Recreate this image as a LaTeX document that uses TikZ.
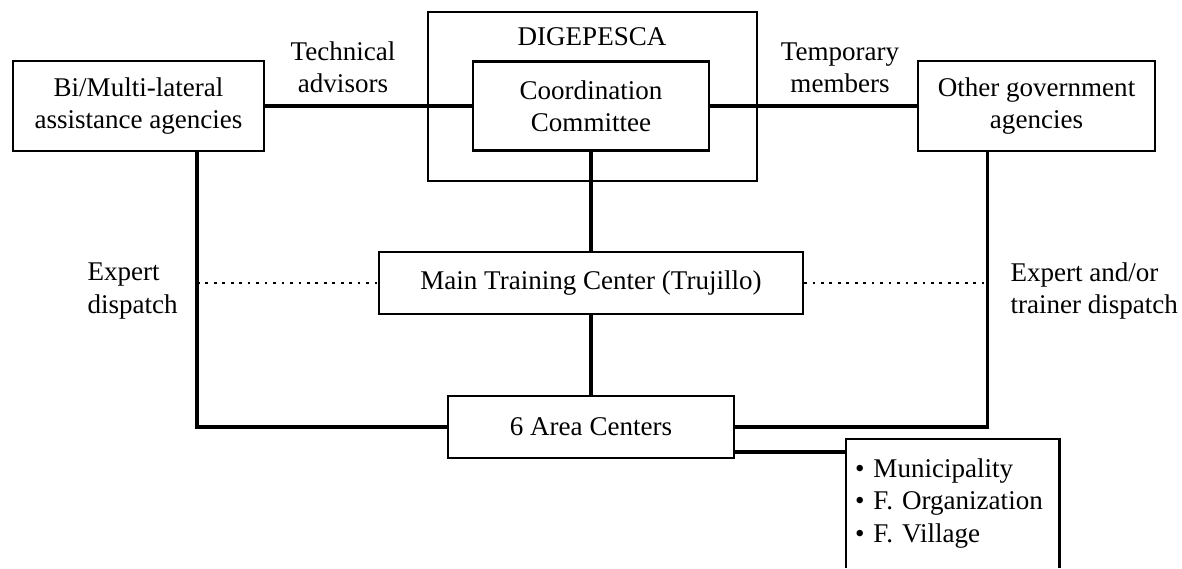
\documentclass[tikz,border=0pt]{standalone}
\usepackage{fontspec}
\setmainfont{Liberation Serif}

\begin{document}
\begin{tikzpicture}[x=0.13mm, y=-0.13mm,
    every node/.style={font=\fontsize{10}{12}\selectfont},
    box/.style={draw, line width=0.3mm, inner sep=0pt, align=center},
    lbl/.style={inner sep=0pt, align=center},
    conn/.style={line width=0.55mm},
    side/.style={line width=0.4mm},
    dotline/.style={line width=0.3mm, dash pattern=on 0.35mm off 0.75mm}]
    % --- 1. page frame ---
    \useasboundingbox (0,0) rectangle (1182,568);
    \coordinate (pgbot) at (0,568);   % lower edge of the page

    % --- 2. boxes ---
    \node[box, minimum width=42.8mm, minimum height=22mm] (dige) at (592.5,96.5) {};
    \node[lbl] (digelbl) at (592,37) {DIGEPESCA};
    \node[box, minimum width=30.6mm, minimum height=11.6mm] (coord) at (591,106) {Coordination\\Committee};
    \node[box, minimum width=32.6mm, minimum height=11.7mm] (bi) at (138.5,106) {Bi/Multi-lateral\\assistance agencies};
    \node[box, minimum width=30.8mm, minimum height=11.7mm] (other) at (1036.5,106) {Other government\\agencies};
    \node[box, minimum width=55.1mm, minimum height=8.1mm] (main) at (591,283) {Main Training Center (Trujillo)};
    \node[box, minimum width=37.1mm, minimum height=8.1mm] (area) at (591,427) {6 Area Centers};

    % list under the area centers (open at the bottom)
    \node[anchor=north west, inner xsep=1.1mm, inner ysep=2.5mm, text width=25.4mm, align=left]
        (vill) at (846,439) {\textbullet\ Municipality\\\textbullet\ F.\ Organization\\\textbullet\ F.\ Village};
    \draw[line width=0.35mm] (vill.north west |- pgbot) -- (vill.north west) -- (vill.north east) -- (vill.north east |- pgbot);

    % --- 3. labels ---
    \node[lbl] (tech) at (343,67) {Technical\\advisors};
    \node[lbl] (temp) at (840,68) {Temporary\\members};
    \node[lbl, anchor=west, align=left] (expl) at (87,291) {Expert\\dispatch};
    \node[lbl, anchor=west, align=left] (expr) at (1010,291) {Expert and/or\\trainer dispatch};

    % --- 4. connectors ---
    \coordinate (lvert) at ([xshift=7.6mm]bi.south);      % left drop line
    \coordinate (rvert) at ([xshift=-6.4mm]other.south);  % right drop line

    \draw[conn] (bi) -- (coord);
    \draw[conn] (coord) -- (other);
    \draw[conn] (coord.south) -- (main.north);
    \draw[conn] (main.south) -- (area.north);

    \draw[side] (lvert) |- (area.west);
    \draw[side] (rvert) |- (area.east);

    \draw[dotline] (lvert |- main.west) -- (main.west);
    \draw[dotline] (main.east) -- (rvert |- main.east);

    \coordinate (tap) at ([yshift=1mm]area.south east);
    \draw[conn] (tap) -- (tap -| vill.west);

\end{tikzpicture}
\end{document}
